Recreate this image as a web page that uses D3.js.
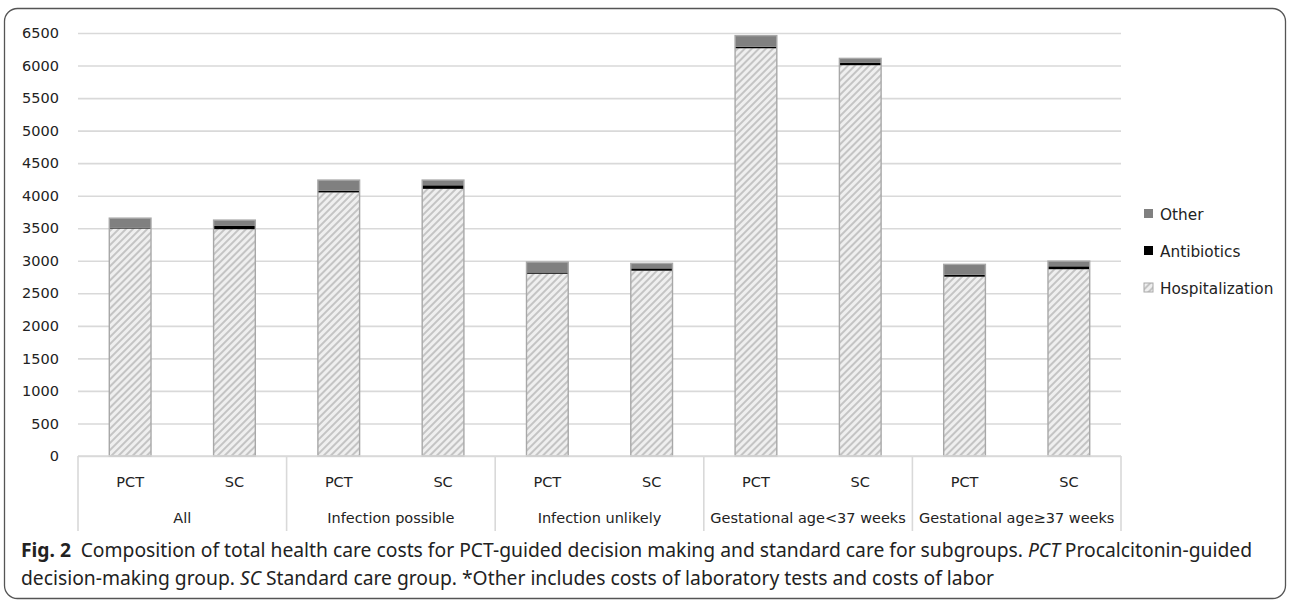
<!DOCTYPE html>
<html>
<head>
<meta charset="utf-8">
<script src="https://cdnjs.cloudflare.com/ajax/libs/d3/7.8.5/d3.min.js"></script>
<style>
  body { margin: 0; background: #fff; }
  svg { display: block; }
  .tick text, .cat, .legend text { font-family: "DejaVu Sans", sans-serif; fill: #222; }
  .caption { font-family: "Noto Sans", sans-serif; fill: #222; }
</style>
</head>
<body>
<div id="chart"></div>
<script>
// Data
const groups = ["All", "Infection possible", "Infection unlikely", "Gestational age<37 weeks", "Gestational age\u226537 weeks"];
const arms = ["PCT", "SC"];
const seriesNames = ["Hospitalization", "Antibiotics", "Other"];
// one value per bar, order: group by group, PCT then SC
const hospitalization = [3495, 3485, 4050, 4105, 2800, 2847, 6265, 6005, 2755, 2870];
const antibiotics = [10, 50, 25, 55, 20, 36, 25, 40, 30, 45];
const other = [150, 90, 165, 80, 160, 77, 170, 65, 160, 80];
const yTicks = [0, 500, 1000, 1500, 2000, 2500, 3000, 3500, 4000, 4500, 5000, 5500, 6000, 6500];

const width = 1290;
const height = 601;
const plot = {left: 78, right: 1121, top: 33, bottom: 456};

const svg = d3.select("#chart").append("svg")
    .attr("width", width)
    .attr("height", height);

// hatch pattern for hospitalization
const pat = svg.append("defs").append("pattern")
    .attr("id", "hatch")
    .attr("patternUnits", "userSpaceOnUse")
    .attr("width", 5)
    .attr("height", 5)
    .attr("patternTransform", "rotate(45)");
pat.append("rect").attr("width", 5).attr("height", 5).attr("fill", "#efefef");
pat.append("rect").attr("width", 2).attr("height", 5).attr("fill", "#c4c4c4");

// figure frame
svg.append("rect")
    .attr("x", 4.5).attr("y", 8.5)
    .attr("width", 1281).attr("height", 590)
    .attr("rx", 13)
    .attr("fill", "none")
    .attr("stroke", "#555")
    .attr("stroke-width", 1.3);

// build rows
const rows = [];
groups.forEach((g, gi) => {
    arms.forEach((a, ai) => {
        const i = gi * 2 + ai;
        rows.push({key: g + "|" + a, group: g, arm: a,
            Hospitalization: hospitalization[i], Antibiotics: antibiotics[i], Other: other[i]});
    });
});

const x = d3.scaleBand()
    .domain(rows.map(d => d.key))
    .range([plot.left, plot.right])
    .paddingInner(0.6)
    .paddingOuter(0.3);

const y = d3.scaleLinear()
    .domain([0, 6500])
    .range([plot.bottom, plot.top]);

// gridlines + y labels
const yAxis = svg.append("g")
    .attr("transform", `translate(${plot.left},0)`)
    .call(d3.axisLeft(y).tickValues(yTicks).tickFormat(d3.format("d"))
        .tickSize(-(plot.right - plot.left)).tickPadding(19));
yAxis.select(".domain").remove();
yAxis.selectAll(".tick line").attr("stroke", "#d9d9d9").attr("stroke-width", 1.6);
yAxis.selectAll(".tick text").attr("font-size", "14.5px");

// stacked bars
const stack = d3.stack().keys(seriesNames);
const stacked = stack(rows);
const fills = {Hospitalization: "url(#hatch)", Antibiotics: "#000", Other: "#808080"};

svg.append("g").selectAll("g")
    .data(stacked)
    .join("g")
    .attr("fill", d => fills[d.key])
    .selectAll("rect")
    .data(d => d)
    .join("rect")
    .attr("x", d => x(d.data.key))
    .attr("width", x.bandwidth())
    .attr("y", d => y(d[1]))
    .attr("height", d => y(d[0]) - y(d[1]));

// bar outline
svg.append("g").selectAll("rect")
    .data(rows)
    .join("rect")
    .attr("x", d => x(d.key))
    .attr("width", x.bandwidth())
    .attr("y", d => y(d.Hospitalization + d.Antibiotics + d.Other))
    .attr("height", d => y(0) - y(d.Hospitalization + d.Antibiotics + d.Other))
    .attr("fill", "none")
    .attr("stroke", "#a8a8a8")
    .attr("stroke-width", 1.4);

// category axis (two levels)
const axisG = svg.append("g");
axisG.append("line")
    .attr("x1", plot.left).attr("x2", plot.right)
    .attr("y1", plot.bottom).attr("y2", plot.bottom)
    .attr("stroke", "#d9d9d9").attr("stroke-width", 1.6);

const groupEdges = d3.range(groups.length + 1).map(i => plot.left + i * 2 * (plot.right - plot.left) / (rows.length));
axisG.selectAll(".sep")
    .data(groupEdges)
    .join("line")
    .attr("class", "sep")
    .attr("x1", d => d).attr("x2", d => d)
    .attr("y1", plot.bottom).attr("y2", 531)
    .attr("stroke", "#d9d9d9").attr("stroke-width", 1.6);

axisG.selectAll(".cat.arm")
    .data(rows)
    .join("text")
    .attr("class", "cat arm")
    .attr("x", d => x(d.key) + x.bandwidth() / 2)
    .attr("y", 487)
    .attr("text-anchor", "middle")
    .attr("font-size", "14.5px")
    .text(d => d.arm);

axisG.selectAll(".cat.grp")
    .data(groups)
    .join("text")
    .attr("class", "cat grp")
    .attr("x", (d, i) => (groupEdges[i] + groupEdges[i + 1]) / 2)
    .attr("y", 523)
    .attr("text-anchor", "middle")
    .attr("font-size", "14.5px")
    .text(d => d);

// legend
const legendItems = ["Other", "Antibiotics", "Hospitalization"];
const legend = svg.append("g").attr("class", "legend")
    .attr("transform", "translate(1144,214)");
const li = legend.selectAll("g")
    .data(legendItems)
    .join("g")
    .attr("transform", (d, i) => `translate(0,${i * 37})`);
li.append("rect")
    .attr("x", 0).attr("y", -5)
    .attr("width", 9).attr("height", 9)
    .attr("fill", d => fills[d])
    .attr("stroke", d => d === "Hospitalization" ? "#a8a8a8" : "none")
    .attr("stroke-width", 1);
li.append("text")
    .attr("x", 16)
    .attr("y", 5.5)
    .attr("font-size", "15.3px")
    .text(d => d);

// caption
const cap1 = svg.append("text").attr("class", "caption")
    .attr("x", 21).attr("y", 557).attr("font-size", "19.3px");
cap1.append("tspan").attr("font-weight", "bold").text("Fig. 2");
cap1.append("tspan").text("\u2002Composition of total health care costs for PCT-guided decision making and standard care for subgroups. ");
cap1.append("tspan").attr("font-style", "italic").text("PCT");
cap1.append("tspan").text(" Procalcitonin-guided");

const cap2 = svg.append("text").attr("class", "caption")
    .attr("x", 21).attr("y", 585).attr("font-size", "19.3px");
cap2.append("tspan").text("decision-making group. ");
cap2.append("tspan").attr("font-style", "italic").text("SC");
cap2.append("tspan").text(" Standard care group. *Other includes costs of laboratory tests and costs of labor");
</script>
</body>
</html>
